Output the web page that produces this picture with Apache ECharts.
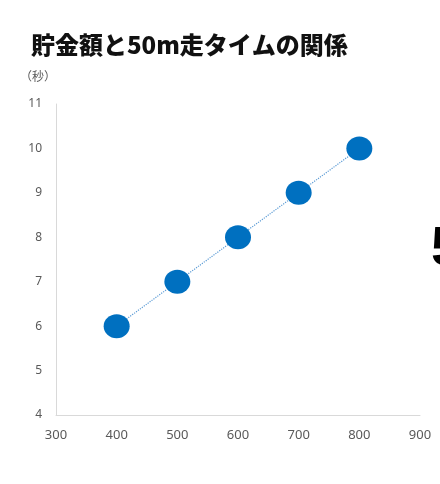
<!DOCTYPE html>
<html><head><meta charset="utf-8">
<script src="https://cdn.jsdelivr.net/npm/echarts@6/dist/echarts.min.js"></script>
<style>html,body{margin:0;padding:0;background:#fff}#c{width:440px;height:484px}</style>
</head><body><div id="c"></div>
<script>
const savings = [400, 500, 600, 700, 800];
const times = [6, 7, 8, 9, 10];
const xTicks = [300, 400, 500, 600, 700, 800, 900];
const yTicks = [4, 5, 6, 7, 8, 9, 10, 11];
const titleText = '貯金額と50m走タイムの関係';
const yUnit = '（秒）';

const chart = echarts.init(document.getElementById('c'));
chart.setOption({
  animation: false,
  backgroundColor: '#ffffff',
  title: {
    text: titleText, left: 26, top: 28,
    textStyle: { fontFamily: 'Noto Sans CJK JP', fontWeight: 900, fontSize: 24, color: '#111' }
  },
  graphic: [
    { type: 'text', left: 20, top: 70, style: { text: yUnit, fontFamily: 'Noto Sans CJK JP', fontSize: 12, fill: '#595959' } },
    { type: 'text', left: 431, top: 222, style: { text: '5', fontFamily: 'Liberation Sans', fontSize: 56, fontWeight: 'bold', fill: '#000' } }
  ],
  grid: { left: 56, right: 20, top: 104, bottom: 69 },
  xAxis: {
    type: 'value', min: xTicks[0], max: xTicks[xTicks.length - 1], interval: 100,
    axisLine: { show: true, lineStyle: { color: '#d9d9d9' } },
    axisTick: { show: false }, splitLine: { show: false },
    axisLabel: { color: '#595959', fontSize: 13, margin: 14, fontFamily: 'Noto Sans' }
  },
  yAxis: {
    type: 'value', min: yTicks[0], max: yTicks[yTicks.length - 1], interval: 1,
    axisLine: { show: true, lineStyle: { color: '#d9d9d9' } },
    axisTick: { show: false }, splitLine: { show: false },
    axisLabel: { color: '#595959', fontSize: 12, margin: 14, fontFamily: 'Noto Sans' }
  },
  series: [{
    type: 'line',
    data: savings.map((v, i) => [v, times[i]]),
    symbol: 'circle', symbolSize: [26, 24],
    itemStyle: { color: '#0070c0' },
    lineStyle: { color: '#5b9bd5', width: 1.2, type: 'dotted' },
    z: 3
  }]
});
</script></body></html>
